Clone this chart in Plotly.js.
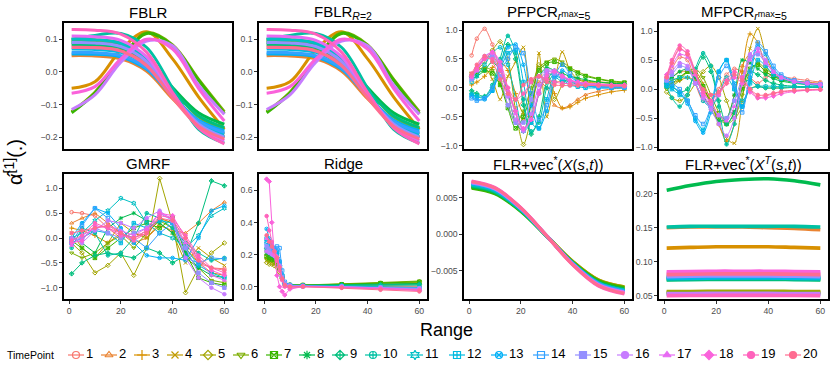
<!DOCTYPE html>
<html>
<head>
<meta charset="utf-8">
<script src="https://cdn.plot.ly/plotly-3.0.1.min.js"></script>
<style>
  body { margin: 0; background: #fff; }
  #chart { width: 830px; height: 374px; }
</style>
</head>
<body>
<div id="chart"></div>
<script>
// time points (legend) and their ggplot hue colours / shapes
var timePoints = ['1','2','3','4','5','6','7','8','9','10','11','12','13','14','15','16','17','18','19','20'];
var palette = ['#F8766D','#EA8331','#D89000','#C09B00','#A3A500','#7CAE00','#39B600','#00BB4E','#00BF7D','#00C1A3',
               '#00BFC4','#00BAE0','#00B0F6','#35A2FF','#9590FF','#C77CFF','#E76BF3','#FA62DB','#FF62BC','#FF6C91'];
var shapes = ['circle-open','triangle-up-open','cross-thin-open','x-thin-open','diamond-open','triangle-down-open',
              'square-x-open','asterisk-open','diamond-cross-open','circle-cross-open','hexagram-open','square-cross-open',
              'circle-x-open','square-open','square','circle','triangle-up','diamond','circle','circle'];

// Range values sampled per panel
var xSmooth = [1, 10, 20, 30, 40, 50, 60];
var xOsc = [1, 3, 6, 9, 12, 15, 18, 21, 24, 27, 30, 33, 36, 39, 42, 45, 50, 55, 60];
var xGmrf = [1, 5, 10, 15, 20, 25, 30, 35, 40, 45, 50, 55, 60];
var xRidge = [1, 2, 3, 4, 5, 6, 7, 8, 10, 15, 30, 45, 60];

var fblr = [
  [0.08, 0.079, 0.069, 0.024, -0.074, -0.161, -0.2],
  [0.05, 0.049, 0.040, 0.002, -0.082, -0.156, -0.19],
  [-0.05, -0.03, 0.067, 0.123, 0.04, -0.076, -0.175],
  [0.095, 0.094, 0.083, 0.036, -0.067, -0.159, -0.2],
  [0.1, 0.099, 0.089, 0.045, -0.051, -0.137, -0.175],
  [-0.122, -0.062, 0.038, 0.12, 0.083, -0.022, -0.122],
  [-0.125, -0.065, 0.035, 0.118, 0.08, -0.025, -0.128],
  [0.09, 0.089, 0.08, 0.04, -0.048, -0.125, -0.16],
  [0.085, 0.084, 0.075, 0.034, -0.055, -0.134, -0.17],
  [0.1, 0.112, 0.118, 0.075, -0.05, -0.175, -0.218],
  [0.1, 0.099, 0.088, 0.04, -0.065, -0.158, -0.2],
  [0.07, 0.069, 0.06, 0.018, -0.073, -0.154, -0.19],
  [0.055, 0.054, 0.046, 0.008, -0.074, -0.147, -0.18],
  [0.06, 0.059, 0.05, 0.011, -0.075, -0.151, -0.185],
  [0.09, 0.089, 0.078, 0.032, -0.07, -0.159, -0.2],
  [-0.115, -0.07, 0.03, 0.095, 0.08, -0.04, -0.13],
  [0.11, 0.108, 0.097, 0.046, -0.066, -0.165, -0.21],
  [-0.065, -0.045, 0.04, 0.1, 0.07, -0.05, -0.15],
  [0.13, 0.128, 0.116, 0.06, -0.063, -0.171, -0.22],
  [0.075, 0.074, 0.064, 0.019, -0.079, -0.166, -0.205]
];
// the R=2 panel reads the same as FBLR
var fblrR2 = fblr;

var pfpcr = [
  [0.56, 0.85, 1.02, 0.75, 0.3, -0.1, -0.35, -0.2, 0.1, 0.2, 0.15, 0.1, 0.12, 0.12, 0.1, 0.09, 0.07, 0.06, 0.05],
  [0.2, 0.35, 0.5, 0.55, 0.35, 0.0, -0.4, -0.55, -0.3, 0.1, 0.0, -0.3, -0.35, -0.3, -0.2, -0.12, -0.06, -0.02, 0.0],
  [0.05, 0.1, 0.2, 0.35, 0.45, 0.3, -0.1, -0.45, -0.5, -0.1, 0.2, -0.1, -0.35, -0.33, -0.25, -0.18, -0.12, -0.07, -0.04],
  [0.25, 0.3, 0.35, 0.15, -0.2, 0.2, 0.45, 0.7, -0.6, 0.6, -0.5, 0.1, 0.62, 0.3, 0.15, 0.1, 0.1, 0.09, 0.08],
  [0.2, 0.3, 0.45, 0.65, 0.8, 0.5, -0.4, -0.98, -0.5, 0.4, 0.3, -0.2, 0.05, 0.2, 0.15, 0.12, 0.1, 0.08, 0.06],
  [0.25, 0.3, 0.35, 0.3, 0.1, -0.3, -0.6, -0.4, 0.0, 0.35, 0.45, 0.5, 0.45, 0.35, 0.28, 0.22, 0.16, 0.12, 0.1],
  [0.2, 0.25, 0.3, 0.25, 0.05, -0.35, -0.7, -0.5, -0.1, 0.3, 0.42, 0.45, 0.4, 0.32, 0.25, 0.2, 0.15, 0.11, 0.09],
  [0.15, 0.2, 0.3, 0.45, 0.3, -0.1, -0.6, -0.75, -0.3, 0.2, 0.35, 0.3, 0.25, 0.2, 0.17, 0.14, 0.1, 0.08, 0.07],
  [-0.05, -0.1, -0.15, 0.0, 0.4, 0.75, 0.5, -0.3, -0.8, -0.5, 0.1, 0.3, 0.2, 0.12, 0.08, 0.06, 0.04, 0.03, 0.03],
  [-0.1, -0.15, -0.15, 0.05, 0.5, 0.9, 0.6, -0.2, -0.75, -0.6, 0.0, 0.25, 0.15, 0.1, 0.06, 0.04, 0.03, 0.02, 0.02],
  [0.1, 0.2, 0.4, 0.6, 0.7, 0.4, -0.2, -0.75, -0.6, -0.1, 0.25, 0.2, 0.1, 0.06, 0.04, 0.03, 0.02, 0.02, 0.02],
  [-0.12, -0.15, -0.18, -0.05, 0.3, 0.6, 0.65, 0.1, -0.6, -0.7, -0.2, 0.2, 0.15, 0.05, 0.02, 0.0, 0.0, 0.0, 0.0],
  [-0.15, -0.2, -0.2, -0.05, 0.35, 0.7, 0.75, 0.4, -0.3, -0.7, -0.4, 0.1, 0.3, 0.2, 0.1, 0.05, 0.0, 0.0, 0.0],
  [-0.18, -0.22, -0.18, 0.0, 0.3, 0.5, 0.7, 0.6, -0.1, -0.55, -0.3, 0.2, 0.4, 0.25, 0.1, 0.05, 0.02, 0.01, 0.01],
  [0.15, 0.3, 0.5, 0.55, 0.2, -0.3, -0.6, -0.6, -0.2, 0.2, 0.3, 0.25, 0.18, 0.12, 0.08, 0.06, 0.04, 0.03, 0.03],
  [0.2, 0.35, 0.55, 0.6, 0.35, -0.15, -0.55, -0.75, -0.45, 0.05, 0.3, 0.3, 0.2, 0.13, 0.09, 0.07, 0.05, 0.04, 0.04],
  [0.18, 0.3, 0.5, 0.6, 0.4, -0.05, -0.45, -0.72, -0.55, -0.05, 0.25, 0.3, 0.22, 0.14, 0.1, 0.08, 0.06, 0.05, 0.05],
  [0.2, 0.32, 0.52, 0.62, 0.45, 0.0, -0.4, -0.7, -0.55, -0.1, 0.2, 0.28, 0.2, 0.13, 0.1, 0.08, 0.06, 0.05, 0.05],
  [0.22, 0.35, 0.5, 0.5, 0.3, 0.0, -0.2, -0.1, 0.1, 0.2, 0.15, 0.1, 0.08, 0.07, 0.06, 0.05, 0.04, 0.04, 0.04],
  [0.25, 0.4, 0.55, 0.45, 0.15, -0.1, -0.2, 0.05, 0.15, 0.2, 0.1, 0.05, 0.04, 0.04, 0.04, 0.04, 0.04, 0.03, 0.03]
];

var mfpcr = [
  [0.2, 0.35, 0.55, 0.5, 0.1, -0.2, -0.2, 0.0, 0.25, 0.35, 0.3, 0.2, 0.1, 0.2, 0.25, 0.22, 0.18, 0.15, 0.12],
  [0.1, 0.2, 0.3, 0.3, 0.2, 0.0, -0.2, -0.45, -0.5, -0.1, 0.4, 0.6, 0.45, 0.3, 0.22, 0.18, 0.14, 0.12, 0.1],
  [0.05, 0.1, 0.15, 0.2, 0.15, 0.0, -0.25, -0.6, -0.9, -0.6, 0.3, 0.95, 0.8, 0.4, 0.25, 0.18, 0.14, 0.11, 0.09],
  [0.1, 0.15, 0.2, 0.3, 0.3, 0.1, -0.2, -0.6, -0.85, -0.93, -0.2, 0.7, 1.04, 0.6, 0.3, 0.2, 0.14, 0.1, 0.08],
  [-0.05, -0.15, -0.2, -0.1, 0.1, 0.3, 0.4, 0.2, -0.2, -0.5, -0.3, 0.0, 0.05, 0.02, 0.02, 0.02, 0.03, 0.03, 0.03],
  [0.0, 0.05, 0.15, 0.3, 0.35, 0.2, -0.1, -0.4, -0.6, -0.5, -0.1, 0.3, 0.45, 0.35, 0.25, 0.18, 0.13, 0.1, 0.08],
  [0.05, 0.1, 0.2, 0.3, 0.25, 0.05, -0.25, -0.5, -0.6, -0.4, 0.0, 0.35, 0.42, 0.3, 0.22, 0.16, 0.12, 0.09, 0.07],
  [0.15, 0.2, 0.3, 0.35, 0.2, -0.1, -0.35, -0.55, -0.5, -0.1, 0.5, 0.45, 0.35, 0.25, 0.18, 0.14, 0.1, 0.08, 0.07],
  [0.1, 0.05, -0.05, 0.0, 0.3, 0.55, 0.3, -0.2, -0.6, -0.4, 0.1, 0.3, 0.25, 0.15, 0.1, 0.07, 0.05, 0.04, 0.04],
  [0.05, -0.15, -0.3, -0.1, 0.35, 0.62, 0.4, -0.3, -0.95, -0.6, 0.1, 0.15, 0.05, 0.02, 0.02, 0.02, 0.03, 0.03, 0.03],
  [0.1, 0.15, 0.2, 0.2, 0.1, -0.2, -0.3, -0.1, 0.2, 0.0, -0.2, 0.0, 0.05, 0.05, 0.05, 0.04, 0.04, 0.04, 0.04],
  [0.05, 0.0, -0.1, -0.2, -0.5, -0.7, -0.3, 0.3, 0.5, 0.0, -0.3, 0.1, 0.5, 0.4, 0.25, 0.18, 0.12, 0.08, 0.06],
  [0.1, 0.05, -0.05, -0.25, -0.55, -0.75, -0.4, 0.3, 0.5, 0.1, -0.3, 0.2, 0.75, 0.6, 0.35, 0.22, 0.14, 0.1, 0.08],
  [0.15, 0.1, 0.0, -0.2, -0.45, -0.6, -0.3, 0.2, 0.4, 0.05, -0.4, 0.3, 0.8, 0.65, 0.4, 0.25, 0.15, 0.11, 0.08],
  [0.15, 0.25, 0.4, 0.35, 0.1, -0.15, -0.3, -0.45, -0.5, -0.2, 0.2, 0.55, 0.6, 0.45, 0.3, 0.2, 0.13, 0.1, 0.08],
  [0.2, 0.3, 0.45, 0.4, 0.1, -0.15, -0.35, -0.6, -0.8, -0.5, 0.1, 0.6, 0.7, 0.5, 0.3, 0.2, 0.13, 0.1, 0.08],
  [0.2, 0.4, 0.6, 0.55, 0.25, -0.05, -0.25, -0.45, -0.55, -0.3, 0.1, 0.5, 0.65, 0.45, 0.3, 0.2, 0.13, 0.1, 0.08],
  [0.25, 0.45, 0.68, 0.6, 0.25, -0.1, -0.25, -0.1, 0.1, 0.2, 0.1, -0.05, -0.15, -0.15, -0.12, -0.08, -0.04, -0.02, -0.01],
  [0.22, 0.5, 0.75, 0.65, 0.3, -0.05, -0.2, -0.05, 0.15, 0.3, 0.2, 0.0, -0.15, -0.12, -0.08, -0.05, -0.03, -0.02, -0.01],
  [0.2, 0.45, 0.7, 0.6, 0.3, 0.0, -0.1, -0.05, 0.1, 0.25, 0.15, 0.0, -0.1, -0.1, -0.07, -0.04, -0.02, -0.01, 0.0]
];

var gmrf = [
  [0.52, 0.5, 0.45, 0.2, 0.0, 0.1, 0.05, 0.4, 0.3, -0.1, -0.5, -0.6, -0.62],
  [0.3, 0.4, 0.5, 0.3, 0.1, -0.1, 0.0, 0.25, 0.15, 0.1, 0.3, 0.55, 0.72],
  [0.2, 0.15, 0.05, -0.1, 0.1, 0.0, 0.15, 0.4, 0.3, -0.2, -0.5, -0.7, -0.75],
  [0.1, -0.2, -0.4, -0.1, 0.3, 0.1, 0.0, 0.3, 0.1, -0.5, -0.2, -0.4, -0.55],
  [-0.1, -0.3, -0.7, -0.55, -0.3, -0.75, -0.2, 1.2, 0.3, -1.1, -0.6, -0.3, -0.1],
  [-0.3, -0.4, -0.3, -0.1, 0.05, -0.2, 0.1, 0.35, 0.2, -0.4, -0.6, -0.85, -0.9],
  [-0.05, -0.2, -0.4, -0.2, 0.0, 0.2, 0.3, 0.2, 0.4, -0.3, -0.8, -0.9, -0.95],
  [0.0, -0.1, -0.3, 0.2, 0.4, 0.5, 0.35, 0.3, 0.1, -0.3, -0.6, -0.75, -0.8],
  [-0.72, -0.5, -0.35, -0.3, -0.35, -0.4, -0.2, -0.3, -0.5, -0.35, 0.3, 1.15, 1.05],
  [-0.2, 0.2, 0.1, -0.35, -0.3, 0.0, 0.5, 0.4, 0.2, -0.1, -0.3, -0.45, -0.4],
  [0.0, 0.1, 0.35, 0.55, 0.8, 0.7, 0.3, 0.1, 0.0, -0.2, 0.05, 0.45, 0.6],
  [-0.1, 0.0, 0.15, 0.1, -0.1, 0.3, 0.2, 0.35, 0.3, -0.2, -0.55, -0.7, -0.8],
  [0.0, 0.3, 0.6, 0.5, 0.2, -0.1, -0.35, -0.4, -0.4, -0.45, 0.0, 0.55, 0.65],
  [-0.1, 0.25, 0.6, 0.4, 0.1, 0.0, -0.2, 0.1, 0.3, -0.4, -0.5, -0.4, -0.42],
  [-0.05, 0.0, 0.2, 0.1, 0.0, 0.1, 0.2, 0.5, 0.35, -0.2, -0.7, -0.9, -1.0],
  [0.0, -0.1, 0.15, 0.35, 0.3, 0.2, 0.4, 0.55, 0.35, -0.4, -0.8, -1.0, -1.13],
  [-0.15, 0.05, 0.2, 0.25, 0.15, 0.05, 0.2, 0.5, 0.4, -0.1, -0.45, -0.75, -0.85],
  [-0.1, -0.05, 0.25, 0.2, 0.05, 0.0, 0.15, 0.5, 0.45, 0.0, -0.4, -0.65, -0.75],
  [-0.05, 0.05, 0.3, 0.2, 0.1, -0.05, 0.1, 0.45, 0.4, 0.05, -0.35, -0.6, -0.7],
  [0.1, 0.15, 0.2, 0.25, 0.1, 0.0, 0.1, 0.4, 0.35, 0.0, -0.45, -0.6, -0.65]
];

var ridge = [
  [0.22, 0.21, 0.2, 0.19, 0.17, 0.12, 0.06, 0.015, 0.005, 0.005, 0.0, 0.0, 0.0],
  [0.2, 0.19, 0.18, 0.18, 0.16, 0.11, 0.06, 0.02, 0.008, 0.006, 0.006, 0.008, 0.01],
  [0.18, 0.17, 0.17, 0.16, 0.15, 0.11, 0.06, 0.02, 0.01, 0.008, 0.01, 0.015, 0.02],
  [0.16, 0.16, 0.15, 0.14, 0.13, 0.1, 0.05, 0.02, 0.01, 0.008, 0.012, 0.02, 0.025],
  [0.15, 0.14, 0.14, 0.13, 0.12, 0.09, 0.05, 0.02, 0.01, 0.01, 0.015, 0.022, 0.03],
  [0.17, 0.16, 0.16, 0.15, 0.14, 0.1, 0.05, 0.02, 0.01, 0.01, 0.016, 0.026, 0.035],
  [0.19, 0.18, 0.17, 0.17, 0.16, 0.11, 0.06, 0.02, 0.01, 0.01, 0.015, 0.022, 0.03],
  [0.21, 0.2, 0.19, 0.18, 0.17, 0.12, 0.06, 0.02, 0.01, 0.008, 0.012, 0.016, 0.02],
  [0.24, 0.22, 0.21, 0.2, 0.18, 0.13, 0.06, 0.02, 0.01, 0.008, 0.01, 0.012, 0.015],
  [0.23, 0.22, 0.2, 0.19, 0.18, 0.12, 0.06, 0.02, 0.008, 0.006, 0.008, 0.01, 0.01],
  [0.28, 0.26, 0.24, 0.22, 0.2, 0.14, 0.07, 0.02, 0.008, 0.005, 0.004, 0.0, -0.005],
  [0.3, 0.27, 0.25, 0.23, 0.21, 0.15, 0.07, 0.02, 0.006, 0.004, 0.002, -0.004, -0.01],
  [0.36, 0.3, 0.27, 0.24, 0.22, 0.16, 0.07, 0.02, 0.006, 0.004, 0.0, -0.005, -0.01],
  [0.27, 0.24, 0.22, 0.24, 0.25, 0.24, 0.1, 0.03, 0.01, 0.004, 0.0, -0.01, -0.02],
  [0.25, 0.23, 0.21, 0.2, 0.18, 0.13, 0.06, 0.02, 0.006, 0.004, 0.0, -0.005, -0.01],
  [0.22, 0.21, 0.2, 0.19, 0.17, 0.12, 0.05, 0.01, 0.004, 0.003, 0.0, -0.008, -0.015],
  [0.3, 0.28, 0.25, 0.22, 0.19, 0.13, 0.05, 0.0, -0.01, 0.0, -0.002, -0.01, -0.02],
  [0.67, 0.655, 0.4, 0.2, 0.07, 0.0, -0.03, -0.052, -0.015, 0.0, -0.005, -0.015, -0.025],
  [0.44, 0.35, 0.28, 0.22, 0.16, 0.1, 0.04, 0.0, -0.005, 0.0, -0.005, -0.012, -0.02],
  [0.32, 0.28, 0.25, 0.22, 0.18, 0.12, 0.05, 0.01, 0.0, 0.0, -0.008, -0.02, -0.03]
];

var flrX = [
  [0.0071, 0.00625, 0.00358, -0.0002, -0.00404, -0.00686, -0.0079],
  [0.0069, 0.00607, 0.00345, -0.00025, -0.00401, -0.00679, -0.0078],
  [0.0064, 0.00563, 0.0032, -0.00022, -0.0037, -0.00626, -0.0072],
  [0.0065, 0.00572, 0.00326, -0.00021, -0.00375, -0.00635, -0.0073],
  [0.0064, 0.00565, 0.00322, -0.0002, -0.00368, -0.00624, -0.0072],
  [0.0065, 0.00571, 0.00323, -0.00026, -0.00382, -0.00644, -0.0074],
  [0.0063, 0.00553, 0.0031, -0.00032, -0.0038, -0.00636, -0.0073],
  [0.0065, 0.00571, 0.00321, -0.00031, -0.0039, -0.00653, -0.0075],
  [0.0066, 0.0058, 0.00326, -0.00031, -0.00394, -0.00662, -0.0076],
  [0.0067, 0.00589, 0.00332, -0.00031, -0.00399, -0.00671, -0.0077],
  [0.0068, 0.00598, 0.00339, -0.00025, -0.00397, -0.0067, -0.0077],
  [0.0069, 0.00607, 0.00347, -0.0002, -0.00394, -0.00669, -0.0077],
  [0.0069, 0.00607, 0.00345, -0.00025, -0.00401, -0.00679, -0.0078],
  [0.007, 0.00616, 0.00352, -0.0002, -0.00399, -0.00678, -0.0078],
  [0.007, 0.00616, 0.0035, -0.00025, -0.00406, -0.00687, -0.0079],
  [0.0071, 0.00625, 0.00355, -0.00025, -0.00411, -0.00696, -0.008],
  [0.0072, 0.00634, 0.00363, -0.0002, -0.00409, -0.00695, -0.008],
  [0.0072, 0.00634, 0.0036, -0.00024, -0.00416, -0.00704, -0.0081],
  [0.0073, 0.00642, 0.00366, -0.00024, -0.00421, -0.00713, -0.0082],
  [0.0072, 0.00633, 0.00361, -0.00023, -0.00417, -0.00703, -0.0081]
];

var flrXT = [
  [0.079, 0.0795, 0.08, 0.08, 0.08, 0.0795, 0.079],
  [0.15, 0.151, 0.151, 0.151, 0.15, 0.149, 0.147],
  [0.12, 0.121, 0.122, 0.122, 0.122, 0.121, 0.12],
  [0.055, 0.0552, 0.0555, 0.0555, 0.0555, 0.0552, 0.055],
  [0.056, 0.0562, 0.0565, 0.0565, 0.0565, 0.0562, 0.056],
  [0.054, 0.0542, 0.0544, 0.0545, 0.0544, 0.0542, 0.054],
  [0.074, 0.0745, 0.075, 0.075, 0.075, 0.0745, 0.074],
  [0.205, 0.212, 0.218, 0.221, 0.222, 0.219, 0.213],
  [0.073, 0.0735, 0.074, 0.074, 0.074, 0.0735, 0.073],
  [0.151, 0.152, 0.152, 0.152, 0.152, 0.152, 0.151],
  [0.076, 0.0765, 0.077, 0.077, 0.077, 0.0765, 0.076],
  [0.075, 0.0755, 0.076, 0.076, 0.076, 0.0755, 0.075],
  [0.077, 0.0775, 0.078, 0.078, 0.078, 0.0775, 0.077],
  [0.052, 0.0522, 0.0524, 0.0525, 0.0524, 0.0522, 0.052],
  [0.078, 0.0785, 0.079, 0.079, 0.079, 0.0785, 0.078],
  [0.053, 0.0532, 0.0534, 0.0535, 0.0534, 0.0532, 0.053],
  [0.083, 0.0835, 0.084, 0.084, 0.084, 0.0835, 0.083],
  [0.085, 0.0855, 0.086, 0.086, 0.086, 0.0855, 0.085],
  [0.05, 0.0502, 0.0504, 0.0505, 0.0504, 0.0502, 0.05],
  [0.081, 0.0815, 0.082, 0.082, 0.082, 0.0815, 0.081]
];

var W = 830, H = 374;
var font = 'Liberation Sans, Arial, sans-serif';

// panel boxes in pixels: [left, right] and row [top, bottom]
var cols = [[64, 232], [259, 427], [464, 632], [659, 828]];
var rows = [[23, 149], [174, 299]];

var panels = [
  {title: 'FBLR', x: xSmooth, data: fblr, range: [-0.236, 0.15], dtick: 0.1, fmt: '.1f', col: 0, row: 0, kind: 'smooth'},
  {title: 'FBLR<sub><i>R</i>=2</sub>', x: xSmooth, data: fblrR2, range: [-0.236, 0.15], dtick: 0.1, fmt: '.1f', col: 1, row: 0, kind: 'smooth'},
  {title: 'PFPCR<sub><i>r</i></sub><span style="font-size:9px">max</span><sub>=5</sub>', x: xOsc, data: pfpcr, range: [-1.057, 1.121], dtick: 0.5, fmt: '.1f', col: 2, row: 0, kind: 'osc'},
  {title: 'MFPCR<sub><i>r</i></sub><span style="font-size:9px">max</span><sub>=5</sub>', x: xOsc, data: mfpcr, range: [-1.03, 1.138], dtick: 0.5, fmt: '.1f', col: 3, row: 0, kind: 'osc'},
  {title: 'GMRF', x: xGmrf, data: gmrf, range: [-1.227, 1.288], dtick: 0.5, fmt: '.1f', col: 0, row: 1, kind: 'jag'},
  {title: 'Ridge', x: xRidge, data: ridge, range: [-0.077, 0.702], dtick: 0.2, fmt: '.1f', col: 1, row: 1, kind: 'jag'},
  {title: 'FLR+vec<sup>*</sup>(<i>X</i>(<i>s</i>,<i>t</i>))', x: xSmooth, data: flrX, range: [-0.00888, 0.00825], dtick: 0.005, fmt: '.3f', col: 2, row: 1, kind: 'smooth'},
  {title: 'FLR+vec<sup>*</sup>(<i>X</i><sup><i>T</i></sup>(<i>s</i>,<i>t</i>))', x: xSmooth, data: flrXT, range: [0.0451, 0.229], dtick: 0.05, fmt: '.2f', col: 3, row: 1, kind: 'flat'}
];

var traces = [];
var layout = {
  width: W, height: H,
  margin: {l: 0, r: 0, t: 0, b: 0},
  paper_bgcolor: '#fff', plot_bgcolor: '#fff',
  showlegend: false,
  font: {family: font},
  annotations: []
};

panels.forEach(function (p, k) {
  var n = k + 1;
  var xa = n === 1 ? 'x' : 'x' + n;
  var ya = n === 1 ? 'y' : 'y' + n;
  var c = cols[p.col], r = rows[p.row];
  var bottomRow = p.row === 1;

  layout['xaxis' + (n === 1 ? '' : n)] = {
    domain: [c[0] / W, c[1] / W], anchor: ya,
    range: [-1.95, 62.95], showgrid: false, zeroline: false,
    showline: true, mirror: true, linecolor: '#000', linewidth: 1.6,
    ticks: bottomRow ? 'outside' : '', ticklen: 3, tickwidth: 1, tickcolor: '#333',
    tickvals: [0, 20, 40, 60], showticklabels: bottomRow,
    tickfont: {size: 8.7, color: '#4D4D4D', family: font}
  };
  layout['yaxis' + (n === 1 ? '' : n)] = {
    domain: [1 - r[1] / H, 1 - r[0] / H], anchor: xa,
    range: p.range, showgrid: false, zeroline: false,
    showline: true, mirror: true, linecolor: '#000', linewidth: 1.6,
    ticks: 'outside', ticklen: 3, tickwidth: 1, tickcolor: '#333',
    tick0: 0, dtick: p.dtick, tickformat: p.fmt,
    tickfont: {size: 8.7, color: '#4D4D4D', family: font}
  };

  layout.annotations.push({
    text: p.title, xref: 'paper', yref: 'paper',
    x: (c[0] + c[1]) / 2 / W, y: 1 - (r[0] - 11) / H,
    xanchor: 'center', yanchor: 'middle', showarrow: false,
    font: {size: 15, color: '#000', family: font}
  });

  p.data.forEach(function (ys, i) {
    var t = {
      type: 'scatter', x: p.x, y: ys, xaxis: xa, yaxis: ya,
      hoverinfo: 'skip', cliponaxis: true
    };
    if (p.kind === 'smooth' || p.kind === 'flat') {
      t.mode = 'lines';
      t.line = {color: palette[i], width: p.kind === 'flat' ? 3.6 : 3, shape: 'spline', smoothing: 1};
    } else {
      t.mode = 'lines+markers';
      t.line = {color: palette[i], width: 1, shape: p.kind === 'osc' ? 'spline' : 'linear', smoothing: 0.8};
      t.marker = {symbol: shapes[i], size: 3.5, color: palette[i], line: {width: 1, color: palette[i]}};
    }
    traces.push(t);
  });
});

// shared labels
layout.annotations.push({
  text: 'Range', xref: 'paper', yref: 'paper',
  x: 446 / W, y: 1 - 330 / H, xanchor: 'center', yanchor: 'middle', showarrow: false,
  font: {size: 18, color: '#000', family: font}
});
layout.annotations.push({
  text: 'α\u0302<sup>[1]</sup>(.)', xref: 'paper', yref: 'paper', textangle: -90,
  x: 14 / W, y: 1 - 162 / H, xanchor: 'center', yanchor: 'middle', showarrow: false,
  font: {size: 20, color: '#000', family: font}
});
layout.annotations.push({
  text: 'TimePoint', xref: 'paper', yref: 'paper',
  x: 5 / W, y: 1 - 355 / H, xanchor: 'left', yanchor: 'middle', showarrow: false,
  font: {size: 10.5, color: '#000', family: font}
});

// legend row: its own pixel axis, entry positions from label widths
var legendX = [];
var pos = 76;
timePoints.forEach(function (lab) {
  legendX.push(pos);
  pos += 24 + 9 * lab.length;
});
layout.xaxis9 = {domain: [0, 1], range: [0, W], visible: false, fixedrange: true, anchor: 'y9'};
layout.yaxis9 = {domain: [1 - 364 / H, 1 - 346 / H], range: [-1, 1], visible: false, fixedrange: true, anchor: 'x9'};

timePoints.forEach(function (lab, i) {
  traces.push({
    type: 'scatter', mode: 'markers', x: [legendX[i]], y: [0], xaxis: 'x9', yaxis: 'y9',
    hoverinfo: 'skip', cliponaxis: false,
    marker: {symbol: shapes[i], size: 7, color: palette[i], line: {width: 1.2, color: palette[i]}},
    error_x: {type: 'constant', value: 8, thickness: 1.2, width: 0, color: palette[i]}
  });
  traces.push({
    type: 'scatter', mode: 'text', x: [legendX[i] + 10], y: [0], xaxis: 'x9', yaxis: 'y9',
    hoverinfo: 'skip', cliponaxis: false,
    text: [lab], textposition: 'middle right',
    textfont: {size: 13, color: '#000', family: font}
  });
});

Plotly.newPlot('chart', traces, layout, {staticPlot: true, displayModeBar: false});
</script>
</body>
</html>
